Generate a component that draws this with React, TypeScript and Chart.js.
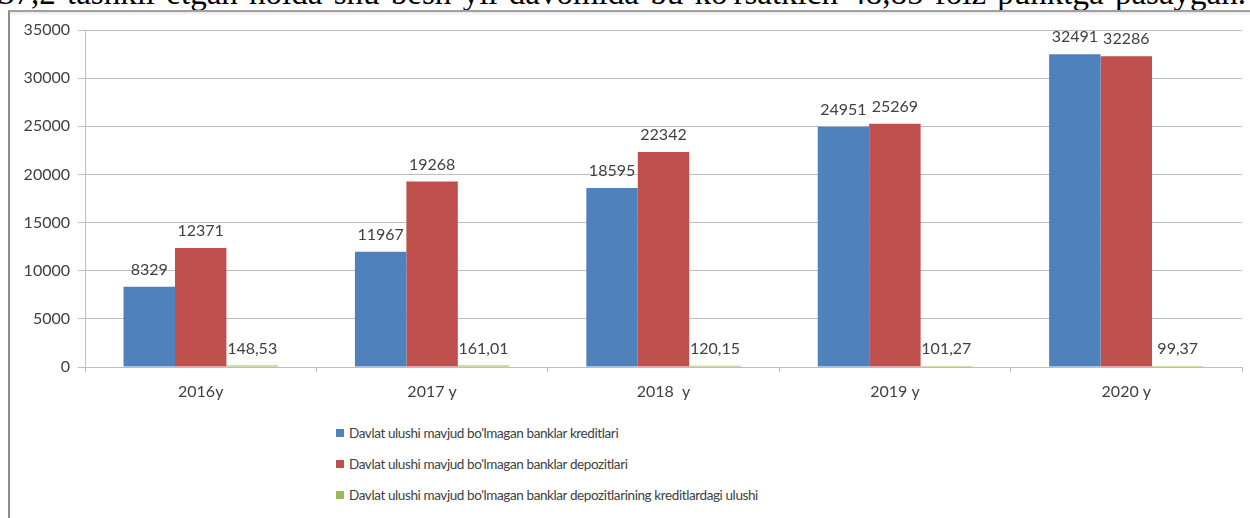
import React, { useEffect, useRef } from 'react';
import { Chart, registerables } from 'chart.js';

Chart.register(...registerables);

const categories = ['2016y', '2017 y', '2018  y', '2019 y', '2020 y'];
const seriesNames = [
  "Davlat ulushi mavjud bo'lmagan banklar kreditlari",
  "Davlat ulushi mavjud bo'lmagan banklar depozitlari",
  "Davlat ulushi mavjud bo'lmagan banklar depozitlarining kreditlardagi ulushi",
];
const credits = [8329, 11967, 18595, 24951, 32491];
const deposits = [12371, 19268, 22342, 25269, 32286];
const depositShare = [148.53, 161.01, 120.15, 101.27, 99.37];
const seriesColors = ['#4F81BD', '#C0504D', '#9BBB59'];
const yMin = 0;
const yMax = 35000;
const yStep = 5000;
const headerText =
  "37,2 tashkil etgan holda shu besh yil davomida bu ko'rsatkich 48,85 foiz punktga pasaygan.";

const FONT = 'Lato, "Open Sans", sans-serif';
const TEXT_COLOR = '#404040';
const GRID_COLOR = '#bdbdbd';

const formatValue = (datasetIndex: number, v: number) =>
  datasetIndex === 2 ? v.toFixed(2).replace('.', ',') : String(v);

const valueLabelPlugin = {
  id: 'valueLabels',
  afterDatasetsDraw(chart: any) {
    const ctx = chart.ctx;
    ctx.save();
    ctx.font = `16px ${FONT}`;
    ctx.fillStyle = TEXT_COLOR;
    ctx.textAlign = 'center';
    ctx.textBaseline = 'middle';
    chart.data.datasets.forEach((ds: any, di: number) => {
      const meta = chart.getDatasetMeta(di);
      meta.data.forEach((el: any, i: number) => {
        ctx.fillText(formatValue(di, ds.data[i]), el.x, el.y - 17);
      });
    });
    ctx.restore();
  },
};

export default function App() {
  const canvasRef = useRef<HTMLCanvasElement | null>(null);

  useEffect(() => {
    if (!canvasRef.current) return;
    const chart = new Chart(canvasRef.current, {
      type: 'bar',
      data: {
        labels: categories,
        datasets: [credits, deposits, depositShare].map((d, i) => ({
          label: seriesNames[i],
          data: d,
          backgroundColor: seriesColors[i],
          borderWidth: 0,
          categoryPercentage: 0.667,
          barPercentage: 1,
        })),
      },
      options: {
        responsive: false,
        animation: false,
        devicePixelRatio: 1,
        layout: { padding: { top: 18, right: 8, bottom: 0, left: 0 } },
        plugins: {
          legend: { display: false },
          tooltip: { enabled: false },
        },
        scales: {
          x: {
            grid: {
              drawOnChartArea: false,
              drawTicks: true,
              tickLength: 5,
              color: GRID_COLOR,
            },
            border: { color: GRID_COLOR, width: 1 },
            ticks: {
              color: TEXT_COLOR,
              font: { family: FONT, size: 16 },
              padding: 10,
            },
            afterFit: (scale: any) => {
              scale.height = 45;
            },
          },
          y: {
            min: yMin,
            max: yMax,
            grid: { color: GRID_COLOR, tickLength: 7, lineWidth: 1 },
            border: { color: GRID_COLOR, width: 1 },
            ticks: {
              stepSize: yStep,
              color: TEXT_COLOR,
              font: { family: FONT, size: 16 },
              padding: 8,
              callback: (v: any) => String(v),
            },
            afterFit: (scale: any) => {
              scale.width = 75;
            },
          },
        },
      },
      plugins: [valueLabelPlugin],
    });
    return () => chart.destroy();
  }, []);

  return (
    <div
      style={{
        position: 'absolute',
        left: 0,
        top: 0,
        width: 1250,
        height: 518,
        overflow: 'hidden',
        background: '#ffffff',
      }}
    >
      <div
        style={{
          position: 'absolute',
          left: -2,
          top: -23,
          width: 1248,
          fontFamily: '"Liberation Serif", "Times New Roman", serif',
          fontSize: 33,
          lineHeight: '33px',
          color: '#000',
          textAlign: 'justify',
          textAlignLast: 'justify' as any,
          whiteSpace: 'nowrap',
        }}
      >
        {headerText}
      </div>
      <div
        style={{
          position: 'absolute',
          left: 8,
          top: 10,
          width: 1300,
          height: 600,
          borderTop: '2px solid #a0a0a0',
          borderLeft: '2px solid #8c8c8c',
          boxShadow: 'inset 0 2px 2px rgba(0,0,0,0.08)',
          background: '#fff',
        }}
      />
      <canvas
        ref={canvasRef}
        width={1240}
        height={400}
        style={{ position: 'absolute', left: 10, top: 12, width: 1240, height: 400 }}
      />
      <div
        style={{
          position: 'absolute',
          left: 336,
          top: 417,
          fontFamily: FONT,
          fontSize: 13.5,
          letterSpacing: '-0.4px',
          color: TEXT_COLOR,
        }}
      >
        {seriesNames.map((name, i) => (
          <div
            key={name}
            style={{ display: 'flex', alignItems: 'center', height: 31, whiteSpace: 'nowrap' }}
          >
            <span
              style={{
                display: 'inline-block',
                width: 8,
                height: 8,
                background: seriesColors[i],
                marginRight: 5,
              }}
            />
            <span>{name}</span>
          </div>
        ))}
      </div>
    </div>
  );
}
